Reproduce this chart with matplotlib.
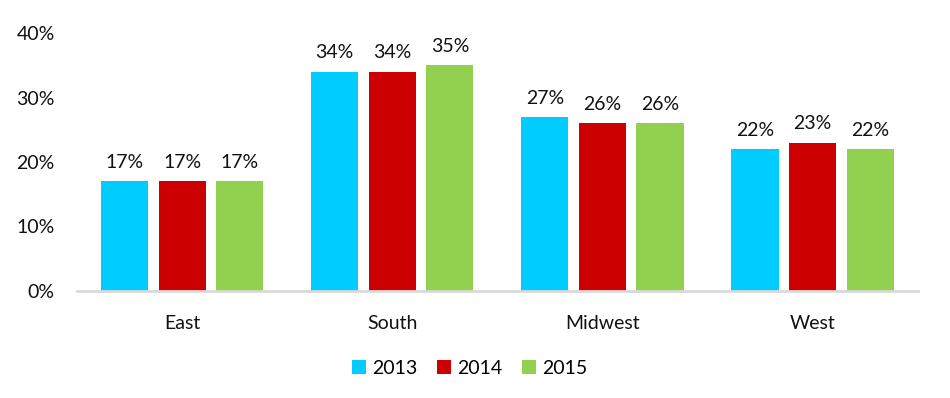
import matplotlib.pyplot as plt
import numpy as np

regions = ['East', 'South', 'Midwest', 'West']
years = ['2013', '2014', '2015']
v2013 = [17, 34, 27, 22]
v2014 = [17, 34, 26, 23]
v2015 = [17, 35, 26, 22]
colors = ['#00CCFF', '#CC0000', '#92D050']

plt.rcParams['font.family'] = ['Lato', 'DejaVu Sans']

fig = plt.figure(figsize=(9.5, 3.98), dpi=100)
ax = fig.add_axes([0.081, 0.269, 0.885, 0.648])

x = np.arange(len(regions))
w = 0.224
step = 0.274
for i, (vals, c, yr) in enumerate(zip([v2013, v2014, v2015], colors, years)):
    bars = ax.bar(x + (i - 1) * step, vals, width=w, color=c, label=yr)
    for b, v in zip(bars, vals):
        ax.text(b.get_x() + b.get_width() / 2, v + 1.6, '%d%%' % v,
                ha='center', va='bottom', fontsize=14, color='#111111')

ax.set_xlim(-0.5, 3.5)
ax.set_ylim(0, 40)
ax.set_yticks([0, 10, 20, 30, 40])
ax.set_yticklabels(['0%', '10%', '20%', '30%', '40%'])
ax.set_xticks(x)
ax.set_xticklabels(regions)
ax.tick_params(axis='both', length=0, labelsize=14, colors='#111111')
ax.tick_params(axis='y', pad=16)
ax.tick_params(axis='x', pad=17)
for s in ['top', 'right', 'left']:
    ax.spines[s].set_visible(False)
ax.spines['bottom'].set_color('#D9D9D9')
ax.spines['bottom'].set_linewidth(2)

ax.legend(loc='center', bbox_to_anchor=(0.467, -0.3), ncol=3, frameon=False,
          fontsize=14, handlelength=0.75, handleheight=0.75, handletextpad=0.3,
          columnspacing=1.0)

fig.savefig('out.png', dpi=100)
